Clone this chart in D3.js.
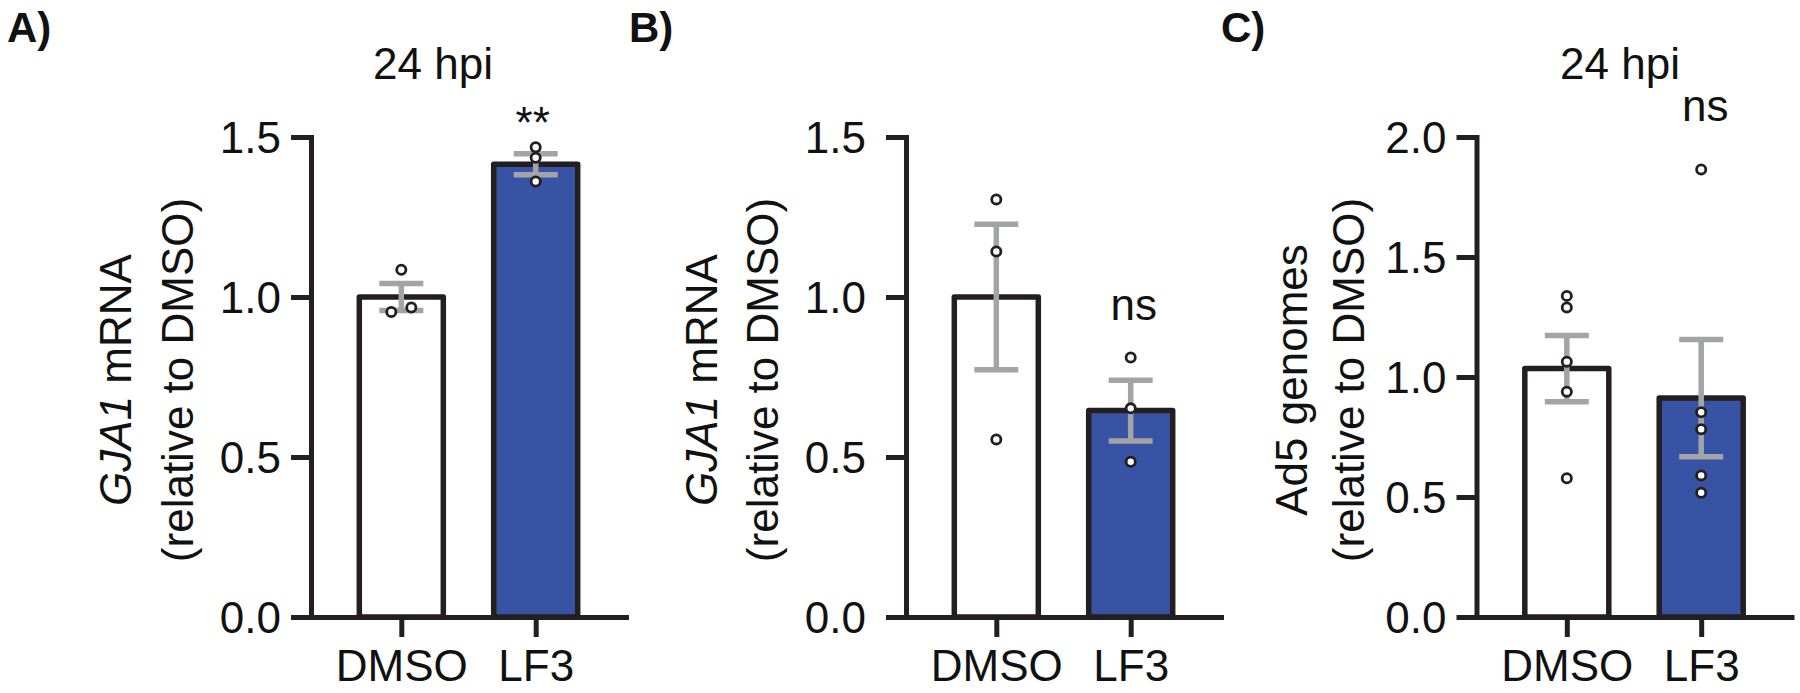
<!DOCTYPE html>
<html lang="en">
<head>
    <meta charset="UTF-8">
    <title>GJA1 / Ad5 | D3</title>
    <style>
        body { margin: 0; background: #fff; }
        text { font-family: "Liberation Sans", Arial, sans-serif; fill: #111; }
    </style>
</head>
<body>
    <div id="container"></div>

    <script type="text/javascript" src="https://d3js.org/d3.v7.min.js"></script>
    <script type="text/javascript">
        // values (mean, SEM, single replicates)
        var categories = ["DMSO", "LF3"];

        var aMeans = [1.0, 1.415];
        var aSem = [0.042, 0.033];
        var aPoints = [[1.085, 0.953, 0.967], [1.468, 1.435, 1.361]];

        var bMeans = [1.0, 0.645];
        var bSem = [0.227, 0.095];
        var bPoints = [[1.305, 1.142, 0.555], [0.811, 0.652, 0.485]];

        var cMeans = [1.035, 0.912];
        var cSem = [0.138, 0.244];
        var cPoints = [[1.338, 1.29, 1.064, 0.939, 0.578], [1.865, 0.853, 0.782, 0.59, 0.518]];

        var ticksAB = [0, 0.5, 1.0, 1.5];
        var ticksC = [0, 0.5, 1.0, 1.5, 2.0];

        var ink = "#231f20";
        var grey = "#a2a4a7";
        var fills = ["#ffffff", "#3953a4"];

        var svg = d3.select("#container")
            .append("svg")
            .attr("width", 1800)
            .attr("height", 693);

        svg.append("rect").attr("width", 1800).attr("height", 693).attr("fill", "#fff");

        var plotTop = 137, plotBottom = 617, axisLen = 315, barW = 84;

        function drawPanel(p) {
            var g = svg.append("g").attr("transform", "translate(" + p.left + ",0)");

            var y = d3.scaleLinear().domain([0, p.yMax]).range([plotBottom, plotTop]);
            var x = d3.scalePoint().domain(categories).range([0, axisLen]).padding(0.672);

            // bars
            g.append("g").selectAll("rect")
                .data(p.means)
                .enter()
                .append("rect")
                .attr("x", function(d, i) { return x(categories[i]) - barW / 2; })
                .attr("y", function(d) { return y(d); })
                .attr("width", barW)
                .attr("height", function(d) { return plotBottom - y(d); })
                .attr("fill", function(d, i) { return fills[i]; })
                .attr("stroke", ink)
                .attr("stroke-width", 5.5)
                .attr("stroke-linejoin", "round");

            // error bars (mean +/- SEM)
            var eb = g.append("g")
                .attr("stroke", grey)
                .attr("stroke-width", 5.5)
                .attr("fill", "none");
            p.means.forEach(function(m, i) {
                var cx = x(categories[i]);
                var hi = y(m + p.sem[i]), lo = y(m - p.sem[i]);
                eb.append("line").attr("x1", cx).attr("x2", cx).attr("y1", hi).attr("y2", lo);
                eb.append("line").attr("x1", cx - 22).attr("x2", cx + 22).attr("y1", hi).attr("y2", hi);
                eb.append("line").attr("x1", cx - 22).attr("x2", cx + 22).attr("y1", lo).attr("y2", lo);
            });

            // replicate points; points that nearly overlap are spread sideways
            var pts = [];
            p.points.forEach(function(vals, i) {
                var sorted = vals.slice().sort(d3.ascending);
                var clusters = [];
                sorted.forEach(function(v) {
                    var last = clusters[clusters.length - 1];
                    if (last && Math.abs(y(v) - y(last[last.length - 1])) < 9) last.push(v);
                    else clusters.push([v]);
                });
                clusters.forEach(function(cl) {
                    cl.forEach(function(v, k) {
                        pts.push({ cat: categories[i], v: v, off: (k - (cl.length - 1) / 2) * 20 });
                    });
                });
            });
            g.append("g").selectAll("circle")
                .data(pts)
                .enter()
                .append("circle")
                .attr("cx", function(d) { return x(d.cat) + d.off; })
                .attr("cy", function(d) { return y(d.v); })
                .attr("r", 4.6)
                .attr("fill", "#fff")
                .attr("stroke", ink)
                .attr("stroke-width", 2.8);

            // axes
            var yAxis = g.append("g")
                .call(d3.axisLeft(y).tickValues(p.ticks).tickFormat(d3.format(".1f"))
                    .tickSize(20).tickSizeOuter(0).tickPadding(p.tickPad));
            var xAxis = g.append("g")
                .attr("transform", "translate(0," + plotBottom + ")")
                .call(d3.axisBottom(x).tickSize(20).tickSizeOuter(0).tickPadding(13));

            [yAxis, xAxis].forEach(function(ax) {
                ax.attr("font-size", 44).attr("font-family", null);
                ax.select(".domain").attr("stroke", ink).attr("stroke-width", 5).attr("stroke-linecap", "square");
                ax.selectAll(".tick line").attr("stroke", ink).attr("stroke-width", 5);
                ax.selectAll(".tick text").attr("fill", "#111");
            });
            yAxis.selectAll(".tick text").attr("dy", "0.36em");

            // y axis title, two lines
            var l1 = g.append("text")
                .attr("transform", "translate(" + (-p.lab1) + ",380) rotate(-90)")
                .attr("text-anchor", "middle")
                .attr("font-size", 44);
            p.label1.forEach(function(part) {
                l1.append("tspan").attr("font-style", part[1] ? "italic" : "normal").text(part[0]);
            });
            g.append("text")
                .attr("transform", "translate(" + (-p.lab2) + ",380) rotate(-90)")
                .attr("text-anchor", "middle")
                .attr("font-size", 44)
                .text("(relative to DMSO)");

            if (p.title) {
                g.append("text")
                    .attr("x", p.titleX).attr("y", 79)
                    .attr("text-anchor", "middle")
                    .attr("font-size", 44)
                    .text(p.title);
            }

            // significance mark over LF3
            g.append("text")
                .attr("x", x("LF3") + p.sigDx).attr("y", p.sigY)
                .attr("text-anchor", "middle")
                .attr("font-size", 44)
                .text(p.sig);

            svg.append("text")
                .attr("x", p.letterX).attr("y", 42)
                .attr("font-size", 42)
                .attr("font-weight", "bold")
                .text(p.letter);
        }

        drawPanel({
            left: 311, yMax: 1.5, ticks: ticksAB, tickPad: 10,
            means: aMeans, sem: aSem, points: aPoints,
            label1: [["GJA1", true], [" mRNA", false]], lab1: 180, lab2: 118,
            title: "24 hpi", titleX: 122,
            sig: "**", sigY: 138, sigDx: -3,
            letter: "A)", letterX: 7
        });

        drawPanel({
            left: 906, yMax: 1.5, ticks: ticksAB, tickPad: 20,
            means: bMeans, sem: bSem, points: bPoints,
            label1: [["GJA1", true], [" mRNA", false]], lab1: 189, lab2: 128,
            title: null,
            sig: "ns", sigY: 320, sigDx: 3,
            letter: "B)", letterX: 629
        });

        drawPanel({
            left: 1476.5, yMax: 2.0, ticks: ticksC, tickPad: 10,
            means: cMeans, sem: cSem, points: cPoints,
            label1: [["Ad5 genomes", false]], lab1: 170, lab2: 113,
            title: "24 hpi", titleX: 143.5,
            sig: "ns", sigY: 121, sigDx: 4,
            letter: "C)", letterX: 1221
        });
    </script>
</body>
</html>
